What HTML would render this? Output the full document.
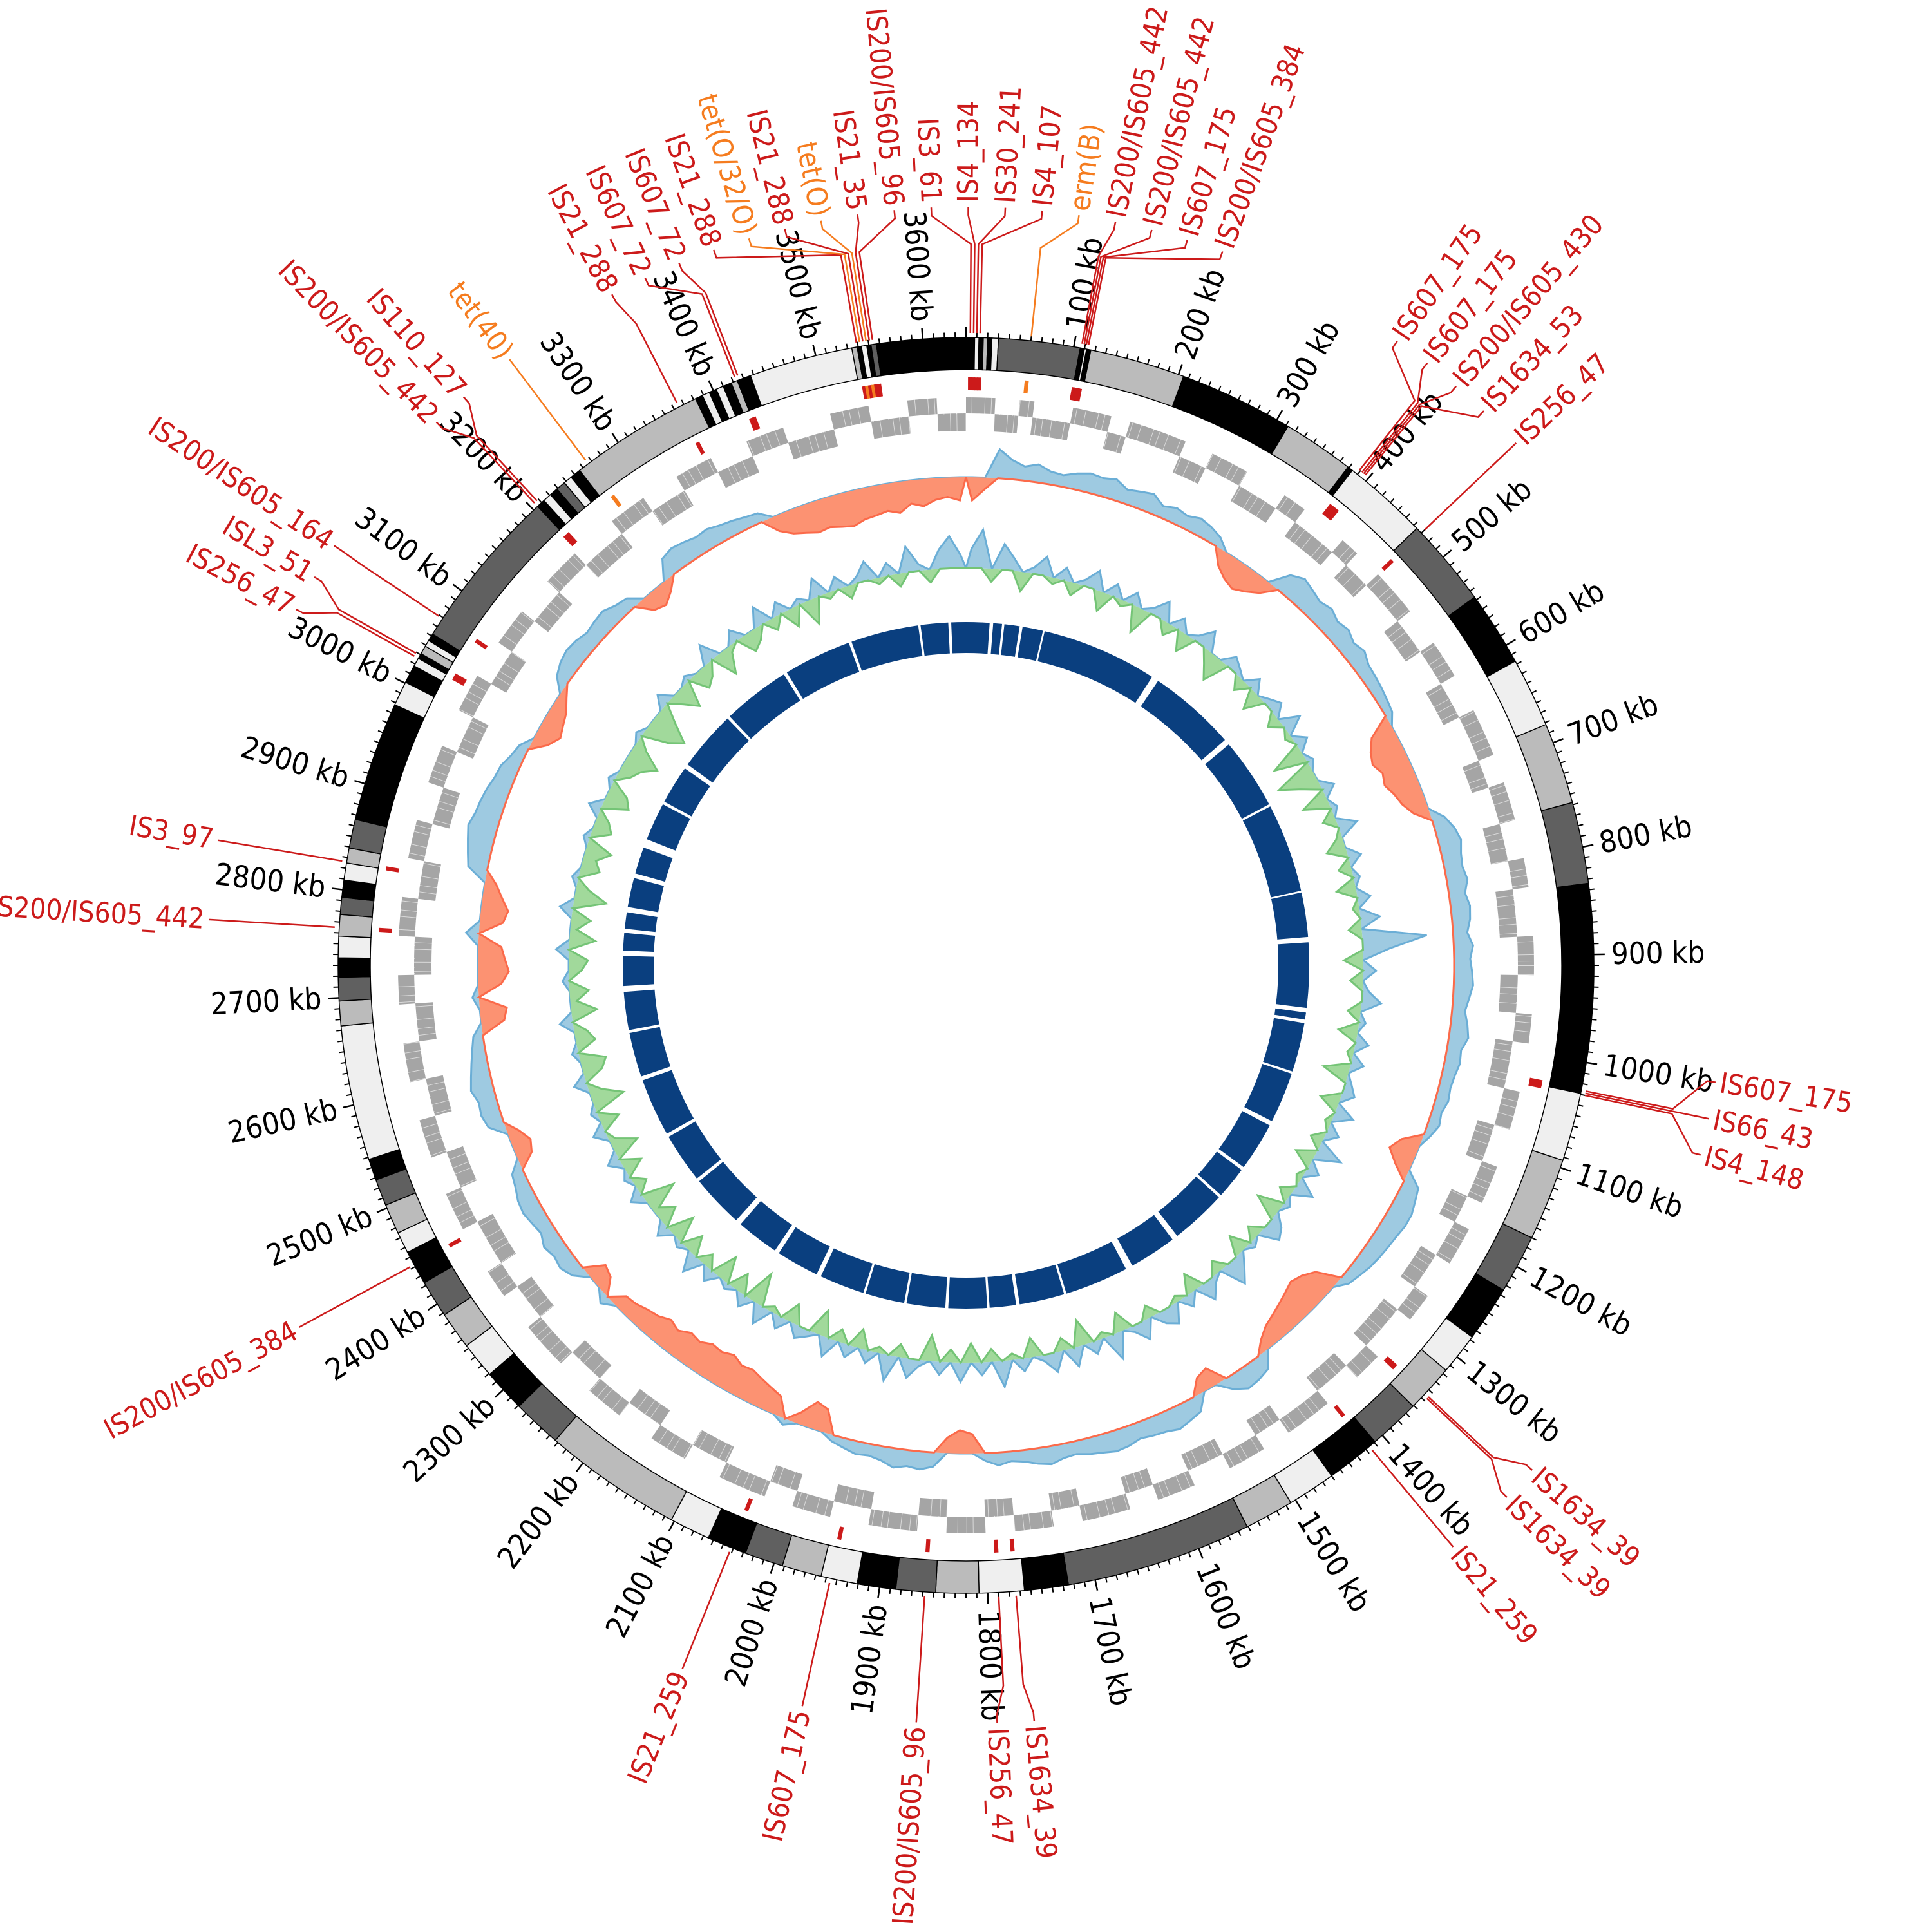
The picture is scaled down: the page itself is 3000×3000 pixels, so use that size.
<!DOCTYPE html>
<html><head><meta charset="utf-8"><title>Circular genome map</title>
<style>
html,body{margin:0;padding:0;background:#fff;}
svg{display:block;}
text{font-family:"DejaVu Sans Condensed","Liberation Sans Narrow","Liberation Sans",sans-serif;}
</style></head>
<body>
<svg id="chart" width="3000" height="3000" viewBox="0 0 3000 3000" xmlns="http://www.w3.org/2000/svg">
<rect x="0" y="0" width="3000" height="3000" fill="#ffffff"/>
<g id="gInner"></g>
<g id="gGC"></g>
<g id="gSkew"></g>
<g id="gGenes"></g>
<g id="gIS"></g>
<g id="gContigs"></g>
<g id="gTicks"></g>
<g id="gLabels"></g>
</svg>
<script>
const GENOME = 3640;
// contig boundaries (kb) and shades
const contigEdges = [0,8,12,16,20,24,30,106,110,112,116,205,312,379,384,464,547,617,682,758,834,1029,1093,1170,1225,1277,1316,1361,1409,1460,1505,1551,1725,1766,1808,1848,1885,1921,1955,1992,2028,2065,2103,2233,2279,2319,2353,2388,2423,2455,2475,2503,2528,2548,2674,2697,2719,2737,2757,2777,2793,2809,2825,2839,2866,2978,3001,3018,3026,3031,3039,3045,3052,3205,3213,3221,3229,3238,3246,3256,3382,3389,3396,3403,3410,3418,3424,3437,3534,3539,3543,3548,3552,3557,3640];
const contigShades = ["K","W","K","L","K","W","D","K","W","K","L","K","L","K","W","D","K","W","L","D","K","W","L","D","K","W","L","D","K","W","L","D","K","W","L","D","K","W","L","D","K","W","L","D","K","W","L","D","K","W","L","D","K","W","L","D","K","W","L","D","K","W","L","D","K","W","K","W","K","L","W","K","D","K","W","K","D","W","K","L","K","W","K","W","K","L","K","W","L","K","W","K","D","K"];
// gene strand blocks (kb edges), strands alternate
const geneEdges = [0,30,55,70,110,150,170,230,260,300,345,370,420,440,470,520,560,600,640,690,720,760,800,830,880,920,960,990,1040,1080,1120,1160,1190,1230,1270,1300,1350,1380,1420,1470,1500,1540,1580,1620,1650,1700,1730,1770,1800,1840,1870,1920,1960,2000,2030,2080,2120,2160,2200,2240,2280,2330,2370,2400,2450,2490,2530,2570,2610,2650,2690,2720,2760,2800,2840,2880,2920,2960,3000,3040,3080,3120,3160,3200,3250,3290,3330,3370,3410,3450,3500,3540,3580,3610,3640];
const geneStrands = [1,0,1,0,1,0,1,0,1,0,1,0,1,0,1,0,1,0,1,0,1,0,1,0,1,0,1,0,1,0,1,0,1,0,1,0,1,0,1,0,1,0,1,0,1,0,1,0,1,0,1,0,1,0,1,0,1,0,1,0,1,0,1,0,1,0,1,0,1,0,1,0,1,0,1,0,1,0,1,0,1,0,1,0,1,0,1,0,1,0,1,0,1,0];
// GC skew per window (240 windows)
const skewVals = [-0.030,-0.015,0.045,0.030,0.022,0.028,0.020,0.018,0.025,0.030,
0.028,0.032,0.022,0.026,0.030,0.018,0.024,0.020,0.026,0.022,
0.015,-0.020,-0.030,-0.035,-0.028,-0.018,0.030,0.040,0.035,0.030,
0.035,0.028,0.032,0.025,0.030,0.022,0.020,0.018,0.015,0.012,
-0.030,-0.040,-0.045,-0.038,-0.042,-0.035,-0.030,-0.020,0.020,0.030,
0.035,0.030,0.028,0.032,0.025,0.030,0.028,0.022,0.030,0.025,
0.028,0.030,0.025,0.020,0.026,0.030,0.022,0.024,0.020,0.018,
0.020,0.015,0.018,0.010,-0.025,-0.035,-0.020,0.025,0.030,0.035,
0.035,0.032,0.030,0.028,0.025,0.020,0.015,-0.030,-0.040,-0.045,
-0.040,-0.035,-0.030,-0.025,-0.015,0.025,0.030,0.032,0.020,-0.025,
-0.020,0.025,0.030,0.035,0.030,0.028,0.025,0.030,0.032,0.028,
0.025,0.020,0.022,0.028,0.024,0.018,0.015,0.020,0.012,-0.025,
-0.030,-0.020,0.022,0.028,0.025,0.030,0.022,0.018,0.020,0.015,
0.010,-0.030,-0.035,-0.015,0.010,-0.025,-0.030,-0.035,-0.040,-0.038,
-0.045,-0.040,-0.042,-0.035,-0.038,-0.030,-0.035,-0.028,-0.025,-0.020,
-0.018,0.015,-0.020,-0.025,0.020,0.028,0.025,0.030,0.022,0.026,
0.030,0.028,0.022,0.018,-0.020,-0.025,-0.015,0.025,0.030,0.028,
0.035,0.030,0.025,0.020,0.015,-0.030,-0.035,0.010,-0.030,-0.040,
-0.035,-0.030,0.020,-0.030,-0.035,-0.025,-0.015,0.030,0.035,0.040,
0.045,0.040,0.038,0.035,0.030,0.028,0.020,0.015,-0.020,-0.030,
-0.025,-0.020,-0.010,0.020,0.028,0.032,0.030,0.025,0.028,0.030,
0.022,0.018,-0.020,-0.025,-0.015,0.030,0.035,0.032,0.028,0.030,
0.025,0.022,0.018,0.015,-0.020,-0.030,-0.035,-0.040,-0.038,-0.042,
-0.045,-0.040,-0.038,-0.035,-0.040,-0.030,-0.035,-0.028,-0.025,-0.030];
// GC content deviation per window (240 windows)
const gcVals = [3,6,-2,4,2,-3,1,3,-1,2,
-2,1,3,-3,2,-1,2,-4,1,3,
-2,2,-3,1,3,-2,-4,2,1,-2,
2,-3,1,2,-2,3,-1,2,-5,1,
-6,-3,2,-4,1,-2,3,-1,-3,2,
-2,1,-3,2,-1,3,-2,10,4,-3,
2,-2,1,3,-2,1,-3,2,-1,2,
-4,1,2,-3,3,-1,2,-2,4,-3,
2,-1,3,-2,1,-4,2,3,-2,1,
-3,2,4,-2,1,3,-3,2,-1,3,
2,-2,3,1,-3,4,-1,2,-4,3,
-2,3,1,-3,2,-1,4,-2,2,-3,
3,-2,2,-4,1,3,-2,4,-1,2,
-3,2,-2,3,-4,1,2,-3,2,-1,
3,-5,2,-3,1,-4,2,-2,3,-3,
1,-4,2,-3,-1,-5,2,-2,1,-3,
2,-4,-1,2,-3,1,-5,-2,2,-3,
-4,1,-3,-2,2,-4,-1,-3,1,-2,
-3,2,-4,-1,-3,2,-5,-2,1,-3,
-2,-4,1,-3,-2,2,-4,-3,1,-2,
-3,-5,-2,1,-4,-6,-3,2,-2,-4,
1,-3,-2,3,-4,-1,2,-3,-2,3,
-2,2,-3,1,-4,3,-1,2,-2,1,
3,-1,2,-2,4,1,-2,3,5,2];
// homology ring gaps (kb start, kb width)
const gapStarts = [40,61,91,131,332,495,627,783,862,982,1002,1092,1183,1274,1335,1436,1527,1648,1729,1780,1850,1921,1992,2073,2154,2235,2336,2427,2532,2615,2685,2746,2785,2820,2879,2933,3013,3084,3195,3316,3438,3559,3610];
const gapWidths = [6,4,5,3,12,10,4,3,9,8,6,4,8,6,5,10,12,4,6,4,5,4,4,8,8,10,6,6,7,5,10,9,7,9,8,15,5,8,5,6,5,4,5];
// insertion sequences / resistance genes
const isNames = ["IS21_288","tet(O/32/O)","IS21_288","tet(O)","IS21_35","IS200/IS605_96","IS3_61","IS4_134","IS30_241","IS4_107","erm(B)","IS200/IS605_442","IS200/IS605_442","IS607_175","IS200/IS605_384","IS607_175","IS607_175","IS200/IS605_430","IS1634_53","IS256_47","IS607_175","IS66_43","IS4_148","IS1634_39","IS1634_39","IS21_259","IS1634_39","IS256_47","IS200/IS605_96","IS607_175","IS21_259","IS200/IS605_384","IS200/IS605_442","IS3_97","IS256_47","ISL3_51","IS200/IS605_164","IS200/IS605_442","IS110_127","tet(40)","IS21_288","IS607_72","IS607_72"];
const isKb = [3539,3542,3545,3548,3551,3554,4,7,10,13,60,107,109,111,113,389,392,394,396,470,1026,1028,1030,1345,1347,1416,1774,1790,1858,1946,2042,2442,2765,2826,3026,3029,3069,3205,3208,3266,3365,3423,3426];
const isKind = ["is","res","is","res","is","is","is","is","is","is","res","is","is","is","is","is","is","is","is","is","is","is","is","is","is","is","is","is","is","is","is","is","is","is","is","is","is","is","is","res","is","is","is"];

const NS = "http://www.w3.org/2000/svg";
const CX = 1500, CY = 1499;
const SHADE = {K:"#000000", D:"#606060", L:"#bbbbbb", W:"#efefef"};
function ang(kb){ return kb*360/GENOME; }
function pt(r,d){ const a=d*Math.PI/180; return [CX+r*Math.sin(a), CY-r*Math.cos(a)]; }
function f(n){ return n.toFixed(2); }
function annulus(r0,r1,d0,d1){
  const lg=(d1-d0)>180?1:0;
  const a=pt(r1,d0), b=pt(r1,d1), c=pt(r0,d1), e=pt(r0,d0);
  return "M"+f(a[0])+" "+f(a[1])+"A"+r1+" "+r1+" 0 "+lg+" 1 "+f(b[0])+" "+f(b[1])+"L"+f(c[0])+" "+f(c[1])+"A"+r0+" "+r0+" 0 "+lg+" 0 "+f(e[0])+" "+f(e[1])+"Z";
}
function mk(tag, parent){ const el=document.createElementNS(NS,tag); parent.appendChild(el); return el; }

// ---- homology ring
const gInner=document.getElementById("gInner");
{
  const c=mk("circle",gInner);
  
  
  c.setAttribute("cx",CX); c.setAttribute("cy",CY); c.setAttribute("r",509);
  c.setAttribute("fill","none"); c.setAttribute("stroke","#0a3f7f"); c.setAttribute("stroke-width",48);
  for(let i=0;i<gapStarts.length;i++){
    const p=mk("path",gInner);
    
    
    p.setAttribute("d",annulus(483,535,ang(gapStarts[i]),ang(gapStarts[i]+gapWidths[i])));
    p.setAttribute("fill","#ffffff");
  }
}

// ---- wave tracks
function waveTrack(g, vals, base, scale, sign, fill, stroke, name){
  const n=vals.length, bin=GENOME/n;
  const outer=[], inner=[];
  for(let i=0;i<n;i++){
    let v=vals[i]; v = sign>0?Math.max(v,0):Math.min(v,0);
    outer.push(pt(base+v*scale, ang((i+0.5)*bin)));
  }
  outer.unshift(pt(base, ang(0))); outer.push(pt(base, ang(GENOME)));
  for(let i=n;i>=0;i--) inner.push(pt(base, ang(i*bin)));
  const area=mk("path",g);
  
  
  area.setAttribute("d","M"+outer.concat(inner).map(p=>f(p[0])+" "+f(p[1])).join("L")+"Z");
  area.setAttribute("fill",fill);
  const line=mk("path",g);
  
  
  line.setAttribute("d","M"+outer.map(p=>f(p[0])+" "+f(p[1])).join("L"));
  line.setAttribute("fill","none"); line.setAttribute("stroke",stroke); line.setAttribute("stroke-width",3);
}
const gGC=document.getElementById("gGC");
waveTrack(gGC, gcVals, 617, 10, 1, "#9ecae1", "#6baed6", "gc-above");
waveTrack(gGC, gcVals, 617, 10, -1, "#a1d99b", "#74c476", "gc-below");
const gSkew=document.getElementById("gSkew");
waveTrack(gSkew, skewVals, 758, 1000, 1, "#9ecae1", "#6baed6", "skew-positive");
waveTrack(gSkew, skewVals, 758, 1200, -1, "#fc9272", "#fb6a4a", "skew-negative");

// ---- genes
const gGenes=document.getElementById("gGenes");
for(let i=0;i<geneStrands.length;i++){
  const p=mk("path",gGenes);
  
  
  const r0 = geneStrands[i]?857:830, r1 = geneStrands[i]?882:857;
  p.setAttribute("d",annulus(r0,r1,ang(geneEdges[i]),ang(geneEdges[i+1])));
  p.setAttribute("fill","#a5a5a5");
}
// gene boundary texture (styling)
[869.5,843.5].forEach(r=>{
  const c=mk("circle",gGenes);
  
  
  c.setAttribute("cx",CX); c.setAttribute("cy",CY); c.setAttribute("r",r);
  c.setAttribute("fill","none"); c.setAttribute("stroke","#ffffff"); c.setAttribute("stroke-width",27);
  c.setAttribute("stroke-dasharray","1 13 1 19 1 9");
  c.setAttribute("opacity","0.6");
});

// ---- IS markers
const gIS=document.getElementById("gIS");
for(let i=0;i<isKb.length;i++){
  const p=mk("path",gIS);
  
  
  p.setAttribute("d",annulus(893,913,ang(isKb[i])-0.2,ang(isKb[i])+0.2));
  p.setAttribute("fill",isKind[i]==="res"?"#f57c1f":"#cc1a1a");
}

// ---- contigs
const gC=document.getElementById("gContigs");
for(let i=0;i<contigShades.length;i++){
  const p=mk("path",gC);
  
  
  p.setAttribute("d",annulus(925,975,ang(contigEdges[i]),ang(contigEdges[i+1])));
  p.setAttribute("fill",SHADE[contigShades[i]]);
  p.setAttribute("stroke","#000"); p.setAttribute("stroke-width",1.5);
}

// ---- ticks and kb labels
const gT=document.getElementById("gTicks");
for(let kb=0;kb<GENOME;kb+=10){
  const major = kb%100===0;
  const d=ang(kb), a=pt(975,d), b=pt(major?992:983,d);
  const l=mk("line",gT);
  
  
  l.setAttribute("x1",f(a[0]));l.setAttribute("y1",f(a[1]));l.setAttribute("x2",f(b[0]));l.setAttribute("y2",f(b[1]));
  l.setAttribute("stroke","#000"); l.setAttribute("stroke-width",major?2.5:2);
  if(major && kb>0){
    const p=pt(1002,d);
    const t=mk("text",gT);
    
    
    t.setAttribute("x",f(p[0])); t.setAttribute("y",f(p[1]));
    t.setAttribute("font-size",47); t.setAttribute("fill","#000");
    t.setAttribute("dominant-baseline","central");
    if(d<180){ t.setAttribute("text-anchor","start"); t.setAttribute("transform","rotate("+f(d-90)+" "+f(p[0])+" "+f(p[1])+")"); }
    else { t.setAttribute("text-anchor","end"); t.setAttribute("transform","rotate("+f(d+90)+" "+f(p[0])+" "+f(p[1])+")"); }
    t.textContent=kb+" kb";
  }
}

// ---- feature labels with relaxation
const gL=document.getElementById("gLabels");
{
  const items=isKb.map((kb,i)=>{ let a=ang(kb); if(a>301) a-=360; return {i:i, feat:a, pos:a}; });
  items.sort((p,q)=>p.feat-q.feat);
  const GAP=2.8;
  for(let it=0;it<600;it++){
    if(it<400) items.forEach(o=>{ o.pos += (o.feat-o.pos)*0.03; });
    for(let k=0;k<items.length;k++){
      const a=items[k], b=items[(k+1)%items.length];
      let diff=b.pos-a.pos; if(k===items.length-1) diff+=360;
      if(diff<GAP){ const dd=(GAP-diff)/2; a.pos-=dd; b.pos+=dd; }
    }
  }
  items.forEach(o=>{
    const col = isKind[o.i]==="res"?"#f57c1f":"#cc1a1a";
    const fa=o.feat, la=o.pos;
    const p0=pt(982,fa), p1=pt(1120,fa), p2=pt(1165,la), p3=pt(1178,la);
    const pl=mk("polyline",gL);
    
    
    pl.setAttribute("points",[p0,p1,p2,p3].map(p=>f(p[0])+","+f(p[1])).join(" "));
    pl.setAttribute("fill","none"); pl.setAttribute("stroke",col); pl.setAttribute("stroke-width",2.5);
    let d=la; if(d<0) d+=360;
    const tp=pt(1185,d);
    const t=mk("text",gL);
    
    
    t.setAttribute("x",f(tp[0])); t.setAttribute("y",f(tp[1]));
    t.setAttribute("font-size",44); t.setAttribute("fill",col);
    t.setAttribute("dominant-baseline","central");
    if(d<180){ t.setAttribute("text-anchor","start"); t.setAttribute("transform","rotate("+f(d-90)+" "+f(tp[0])+" "+f(tp[1])+")"); }
    else { t.setAttribute("text-anchor","end"); t.setAttribute("transform","rotate("+f(d+90)+" "+f(tp[0])+" "+f(tp[1])+")"); }
    t.textContent=isNames[o.i];
  });
}
</script>
</body></html>
